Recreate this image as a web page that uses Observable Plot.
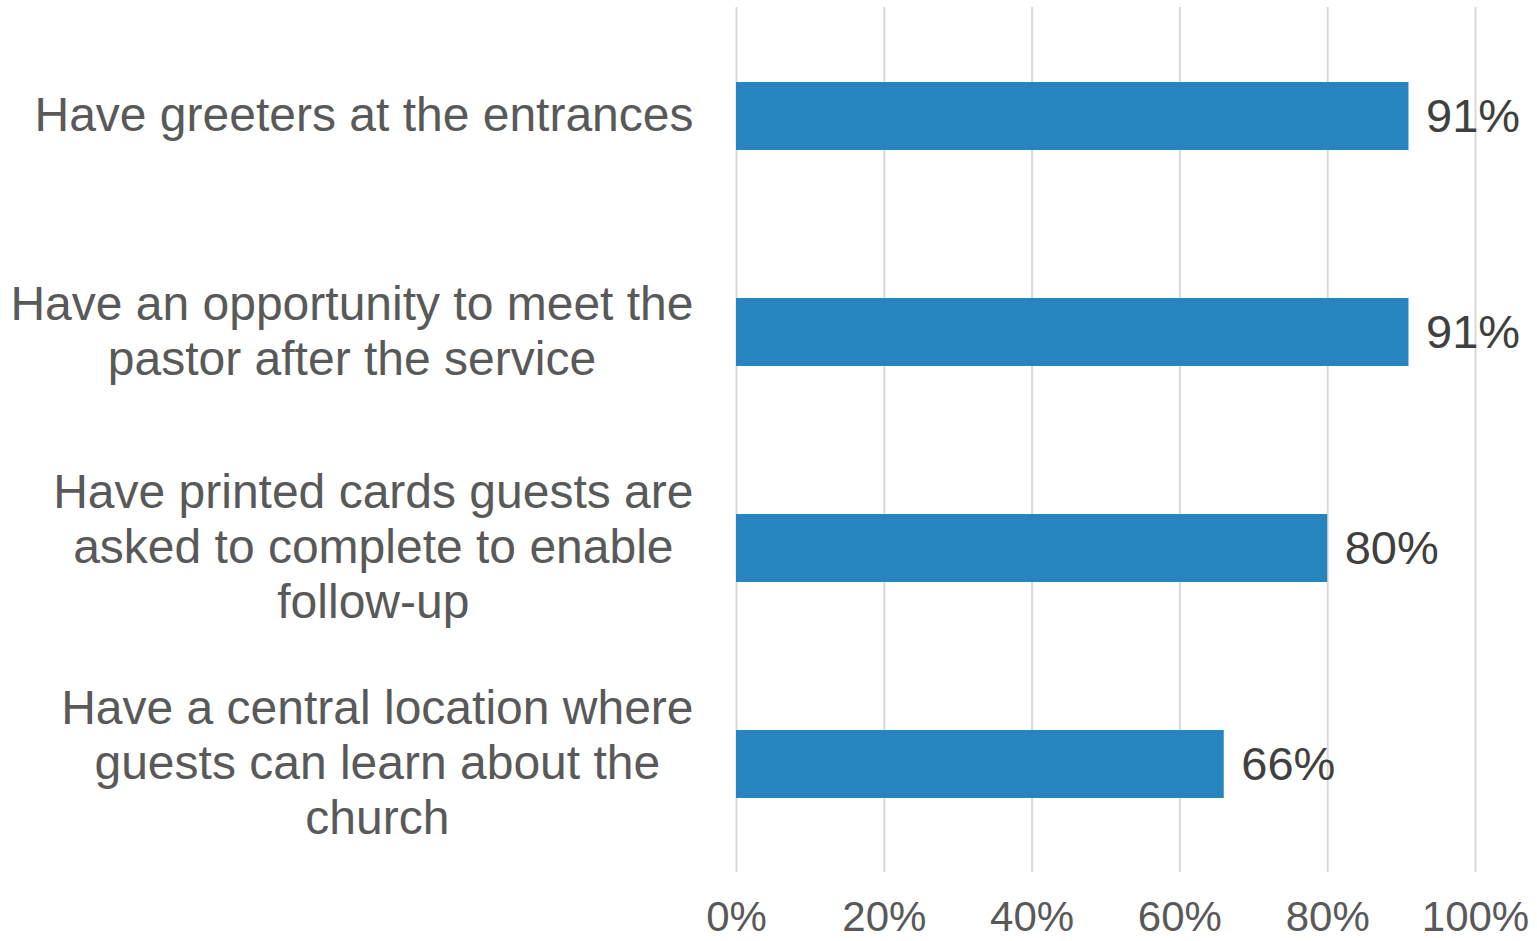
<!DOCTYPE html>
<html>
<head>
<meta charset="utf-8">
<script src="https://cdn.jsdelivr.net/npm/d3@7"></script>
<script src="https://cdn.jsdelivr.net/npm/@observablehq/plot@0.6"></script>
<style>
  html, body { margin: 0; padding: 0; background: #fff; }
  #chart svg { display: block; }
</style>
</head>
<body>
<div id="chart"></div>
<script>
const categories = [
  "Have greeters at the entrances",
  "Have an opportunity to meet the\npastor after the service",
  "Have printed cards guests are\nasked to complete to enable\nfollow-up",
  "Have a central location where\nguests can learn about the\nchurch"
];
const values = [0.91, 0.91, 0.80, 0.66];
const xTicks = [0, 0.2, 0.4, 0.6, 0.8, 1.0];

const data = categories.map((c, i) => ({category: c, value: values[i]}));

const FONT = "'Liberation Sans', Arial, Helvetica, sans-serif";
const catSize = 48;
const canvas = document.createElement("canvas");
const ctx = canvas.getContext("2d");
ctx.font = `${catSize}px 'Liberation Sans'`;
const blockWidth = c => Math.max(...c.split("\n").map(l => ctx.measureText(l).width));

const labelMarks = data.map(d => Plot.text([d], {
  x: () => 0,
  y: "category",
  text: "category",
  textAnchor: "middle",
  lineAnchor: "middle",
  lineHeight: 1.146,
  dx: -(43 + blockWidth(d.category) / 2),
  dy: -3,
  fontSize: catSize,
  fill: "#595959",
  fontFamily: FONT
}));

const chart = Plot.plot({
  width: 1537,
  height: 941,
  marginLeft: 736,
  marginRight: 62,
  marginTop: 7,
  marginBottom: 69,
  style: {fontFamily: FONT, background: "#fff", overflow: "visible"},
  x: {domain: [0, 1], label: null},
  y: {domain: categories, paddingInner: 0.686, paddingOuter: 0.343, label: null, axis: null},
  marks: [
    Plot.gridX(xTicks, {stroke: "#d9d9d9", strokeOpacity: 1, strokeWidth: 2}),
    Plot.axisX(xTicks, {
      tickSize: 0, tickPadding: 29,
      tickFormat: d3.format(".0%"),
      fontSize: 42, fill: "#595959", label: null
    }),
    Plot.barX(data, {x: "value", y: "category", fill: "#2685be"}),
    Plot.text(data, {
      x: "value", y: "category",
      text: d => d3.format(".0%")(d.value),
      textAnchor: "start", dx: 17,
      fontSize: 47, fill: "#404040"
    }),
    ...labelMarks
  ]
});
document.getElementById("chart").appendChild(chart);
</script>
</body>
</html>
